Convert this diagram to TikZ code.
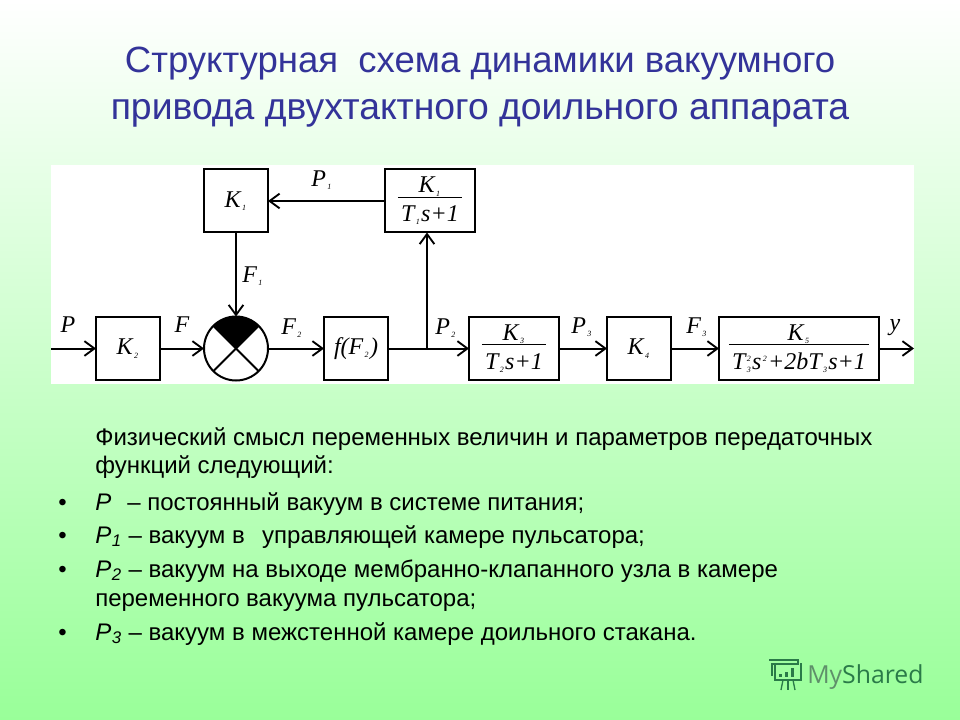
\documentclass[tikz,border=0pt]{standalone}
\usepackage{amsmath}
\usepackage{fontspec}
\setmainfont{Liberation Sans}
\newfontfamily\blockfont{Liberation Serif}
\newfontfamily\markfont{Open Sans}
\usetikzlibrary{positioning, arrows.meta, calc}
\definecolor{titleblue}{HTML}{333399}
\definecolor{greenmiddle}{HTML}{D6FFD6}
\definecolor{greenbottom}{HTML}{99FF99}
\definecolor{markdark}{HTML}{2A7A48}
\definecolor{markgrey}{HTML}{5F8F6A}
\newcommand{\ix}[1]{\raisebox{-0.3ex}{\fontsize{6}{6}\selectfont\,#1\,}}
\newcommand{\tf}[2]{$\genfrac{}{}{0.5pt}{}{\hbox{#1\rule[-2pt]{0pt}{10pt}}}{\hbox{\kern2.5pt\rule{0pt}{17.5pt}#2\kern2.5pt}}$}
\newcommand{\Pn}[1]{\textit{P}\textsubscript{\kern0.5pt\textit{#1}}}
\tikzset{
block/.style={draw, line width=1.5pt, minimum height=47.25pt, minimum width=48pt, inner sep=0pt, outer sep=0pt, font=\blockfont\itshape\fontsize{18}{20}\selectfont},
sig/.style={font=\blockfont\itshape\fontsize{18}{18}\selectfont, inner sep=0pt},
link/.style={line width=1.5pt, -{Straight Barb[length=7.5pt, width=11pt, line width=1.4pt]}},
head/.style={anchor=base, text=titleblue, inner sep=0pt},
body/.style={anchor=base west, inner sep=0pt, font=\fontsize{18}{18}\selectfont},
}
\begin{document}
\begin{tikzpicture}[x=0.75pt, y=-0.75pt]
\shade[top color=white, middle color=greenmiddle, bottom color=greenbottom] (0,0) rectangle (960,720);
\useasboundingbox (0,0) rectangle (960,720);
\fill[white] (51,165) rectangle (914,384);
% heading
\node(h1)[head, font=\fontsize{27.4}{27.4}\selectfont] at (480,72.5){Структурная\ \ схема динамики вакуумного};
\node(h2)[head, font=\fontsize{28}{28}\selectfont] at (480,119.5){привода двухтактного доильного аппарата};
% lower row
\node(k2)[block] at (128,348.5){\textit{K}\ix{2}};
\node(cmp)[circle, draw, line width=1.5pt, minimum size=48pt, inner sep=0pt, outer sep=0pt, right = 33pt of k2]{};
\node(ff)[block, right = 42pt of cmp]{\textit{f(F}\ix{2}\textit{)}};
\node(k3)[block, minimum width=67.5pt, right = 60.75pt of ff]{\tf{\textit{K}\ix{3}}{\textit{T}\ix{2}\textit{s+1}}};
\node(k4)[block, right = 36pt of k3]{\textit{K}\ix{4}};
\node(k5)[block, minimum width=120pt, right = 36pt of k4]{\tf{\textit{K}\ix{5}}{\textit{T}\ix{3}\kern-5pt\raisebox{1ex}{\ix{2}}\textit{s}\raisebox{1ex}{\ix{2}}\textit{+2bT}\ix{3}\textit{s+1}}};
% upper row
\node(k1)[block, above = 63pt of cmp]{\textit{K}\ix{1}};
\node(t1)[block, minimum width=67.5pt, right = 87.75pt of k1]{\tf{\textit{K}\ix{1}}{\textit{T}\ix{1}\textit{s+1}}};
% cross in the comparator
\fill (cmp.center) -- (cmp.135) arc[start angle=135, end angle=45, radius=24pt] -- cycle;
\draw[line width=1.5pt] (cmp.45) -- (cmp.225);
\draw[line width=1.5pt] (cmp.135) -- (cmp.315);
% free ends and the branch point
\coordinate(in) at (51,348.5);
\coordinate(out) at (914,348.5);
\coordinate[right = 29.25pt of ff] (br);
% connectors
\draw[link] (in) -- (k2);
\draw[link] (k2) -- (cmp);
\draw[link] (cmp) -- (ff);
\draw[link] (ff) -- (k3);
\draw[link] (k3) -- (k4);
\draw[link] (k4) -- (k5);
\draw[link] (k5) -- (out);
\draw[link] (k1) -- (cmp);
\draw[link] (t1) -- (k1);
\draw[link] (br) -- (br |- t1.south);
% signal labels
\node(lp)[sig] at (68,325){P};
\node(lf)[sig] at (182,325){F};
\node(lf2)[sig] at (292,328){F\ix{2}};
\node(lf1)[sig] at (253,276){F\ix{1}};
\node(lp1)[sig] at (322,180){P\ix{1}};
\node(lp2)[sig] at (446,328){P\ix{2}};
\node(lp3)[sig] at (582,327){P\ix{3}};
\node(lf3)[sig] at (697,327){F\ix{3}};
\node(ly)[sig] at (895,328){y};
% text under the scheme
\node(t0)[body] at (95,445){Физический смысл переменных величин и параметров передаточных};
\node(t0b)[body] at (95,473){функций следующий:};
\node(t1a)[body] at (95,510){\textit{P}\ \ \kern2pt– постоянный вакуум в системе питания;};
\node(t2a)[body] at (95,543){\Pn{1} – вакуум в\ \ \kern3pt управляющей камере пульсатора;};
\node(t3a)[body] at (95,577){\Pn{2} – вакуум на выходе мембранно-клапанного узла в камере};
\node(t3b)[body] at (95,606){переменного вакуума пульсатора;};
\node(t4a)[body] at (95,640){\Pn{3} – вакуум в межстенной камере доильного стакана.};
\node(b1)[body] at (58,510){•};
\node(b2)[body] at (58,543){•};
\node(b3)[body] at (58,577){•};
\node(b4)[body] at (58,640){•};
% site mark
\node(mark)[anchor=base west, inner sep=0pt, text=markdark, font=\markfont\fontsize{18.6}{18.6}\selectfont] at (807,683){\textcolor{markgrey}{My}Shared};
\draw[markdark, line width=1pt] (775,663) -- (775,680) -- (801,680) -- (801,663);
\draw[markdark, line width=1pt] (769,660) -- (798,660) -- (798,664) -- (772,664) -- (772,676);
\draw[markdark, line width=1pt] (783,680) -- (781,690);
\draw[markdark, line width=1pt] (788,680) -- (788,690);
\draw[markdark, line width=1pt] (793,680) -- (795,690);
\fill[markdark] (779,674) rectangle (782,677);
\fill[markdark] (785,672) rectangle (788,677);
\fill[markdark] (791,668) rectangle (794,677);
\end{tikzpicture}
\end{document}
